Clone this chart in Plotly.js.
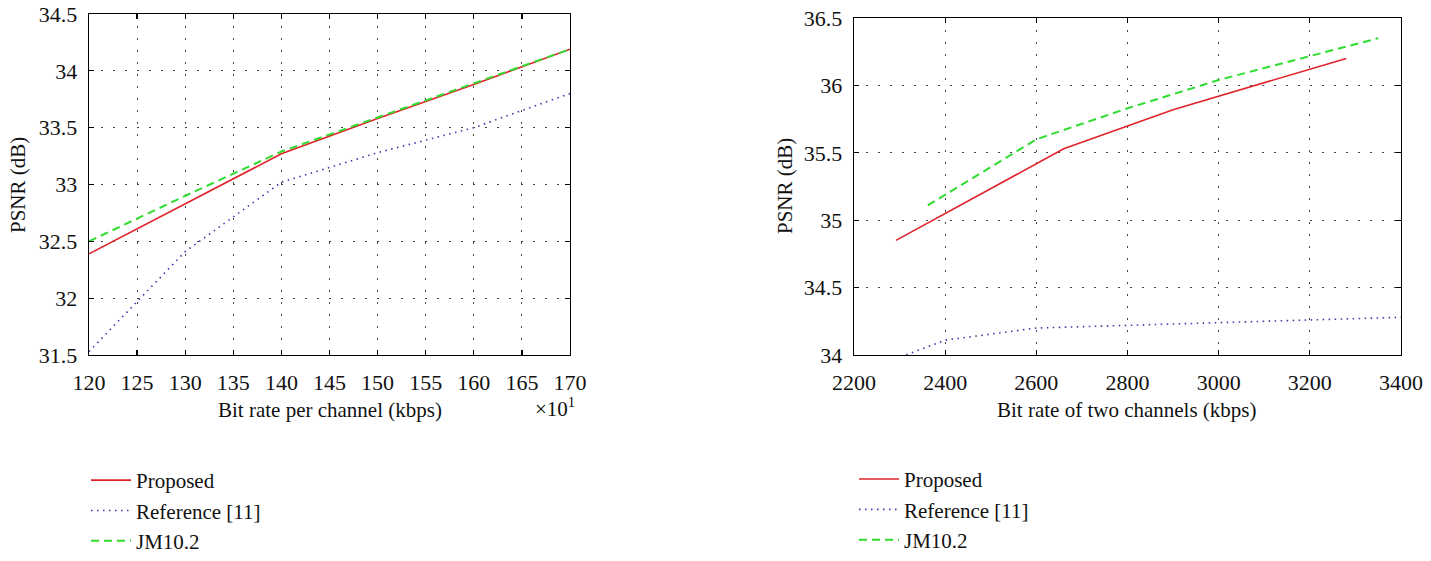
<!DOCTYPE html>
<html>
<head>
<meta charset="utf-8">
<script src="https://cdn.plot.ly/plotly-3.0.1.min.js"></script>
<style>html,body{margin:0;padding:0;background:#fff;}#chart{width:1431px;height:561px;}</style>
</head>
<body>
<div id="chart"></div>
<script>
// ---- Data (left panel: bit rate per channel, x10^1 kbps) ----
const leftRate = [120, 130, 140, 150, 160, 170];
const leftProposed = [32.39, 32.83, 33.27, 33.58, 33.88, 34.19];
const leftReference = [31.53, 32.41, 33.02, 33.28, 33.50, 33.80];
const leftJM = [32.50, 32.90, 33.29, 33.59, 33.89, 34.19];

// ---- Data (right panel: bit rate of two channels, kbps) ----
const rightProposedRate = [2292, 2660, 2900, 3280];
const rightProposed = [34.85, 35.53, 35.82, 36.20];
const rightReferenceRate = [2290, 2400, 2600, 2800, 3000, 3200, 3400];
const rightReference = [33.97, 34.11, 34.20, 34.22, 34.245, 34.265, 34.28];
const rightJMRate = [2362, 2600, 2800, 3000, 3350];
const rightJM = [35.11, 35.60, 35.83, 36.04, 36.35];

// ---- Ticks ----
const leftXTicks = [120, 125, 130, 135, 140, 145, 150, 155, 160, 165, 170];
const leftYTicks = [31.5, 32, 32.5, 33, 33.5, 34, 34.5];
const rightXTicks = [2200, 2400, 2600, 2800, 3000, 3200, 3400];
const rightYTicks = [34, 34.5, 35, 35.5, 36, 36.5];

const seriesNames = ["Proposed", "Reference [11]", "JM10.2"];

const W = 1431, H = 561;
const px = x => x / W;
const py = y => 1 - y / H;
const FONT = "Liberation Serif";

const red = "#e0232b", blue = "#3a3aa8", green = "#2fdc2f";
const styles = [
  {color: red, width: 1.6, dash: "solid"},
  {color: blue, width: 1.6, dash: "1.5px,4.5px"},
  {color: green, width: 2, dash: "8px,5px"}
];

function tr(x, y, i, xa, ya, leg) {
  return {
    x: x, y: y, type: "scatter", mode: "lines", name: seriesNames[i],
    xaxis: xa, yaxis: ya, legend: leg, legendgroup: leg + i,
    line: styles[i], hoverinfo: "skip"
  };
}

const data = [
  tr(leftRate, leftProposed, 0, "x", "y", "legend"),
  tr(leftRate, leftReference, 1, "x", "y", "legend"),
  tr(leftRate, leftJM, 2, "x", "y", "legend"),
  tr(rightProposedRate, rightProposed, 0, "x2", "y2", "legend2"),
  tr(rightReferenceRate, rightReference, 1, "x2", "y2", "legend2"),
  tr(rightJMRate, rightJM, 2, "x2", "y2", "legend2")
];

function axis(domain, range, ticks, anchor, standoff) {
  return {
    domain: domain, range: range, anchor: anchor,
    tickmode: "array", tickvals: ticks,
    showline: true, linecolor: "#000", linewidth: 1.3, mirror: "ticks",
    ticks: "inside", ticklen: 5, tickwidth: 1.3, tickcolor: "#000",
    ticklabelstandoff: standoff,
    showgrid: true, gridcolor: "#444", gridwidth: 1, griddash: "2px,10px",
    zeroline: false, fixedrange: true,
    tickfont: {family: FONT, size: 22, color: "#111"}
  };
}

const legendCommon = {
  font: {family: FONT, size: 21, color: "#111"},
  bgcolor: "rgba(0,0,0,0)", borderwidth: 0,
  xanchor: "left", yanchor: "bottom", itemwidth: 40,
  traceorder: "grouped", tracegroupgap: 0,
  itemclick: false, itemdoubleclick: false
};

function label(text, x, y, angle, size) {
  return {text: text, xref: "paper", yref: "paper", x: px(x), y: py(y),
    xanchor: "center", yanchor: "middle", textangle: angle || 0, showarrow: false,
    font: {family: FONT, size: size || 21, color: "#111"}};
}

const layout = {
  width: W, height: H,
  margin: {l: 0, r: 0, t: 0, b: 0},
  paper_bgcolor: "#fff", plot_bgcolor: "#fff",
  showlegend: true,
  font: {family: FONT, color: "#111"},
  xaxis: axis([px(89), px(570)], [120, 170], leftXTicks, "y", 7),
  yaxis: axis([py(355), py(14)], [31.5, 34.5], leftYTicks, "x", 6),
  xaxis2: axis([px(854), px(1401)], [2200, 3400], rightXTicks, "y2", 7),
  yaxis2: axis([py(355), py(18)], [34, 36.5], rightYTicks, "x2", 6),
  legend: Object.assign({x: px(86), y: 0}, legendCommon),
  legend2: Object.assign({x: px(854), y: 0.002}, legendCommon),
  annotations: [
    label("PSNR (dB)", 18, 185, -90, 21),
    label("PSNR (dB)", 785, 186, -90, 21),
    label("Bit rate per channel (kbps)", 330, 410, 0, 21),
    label("Bit rate of two channels (kbps)", 1127, 410, 0, 21),
    label("×10<sup>1</sup>", 555, 407, 0, 21)
  ]
};

Plotly.newPlot("chart", data, layout, {displayModeBar: false, staticPlot: true});
</script>
</body>
</html>
